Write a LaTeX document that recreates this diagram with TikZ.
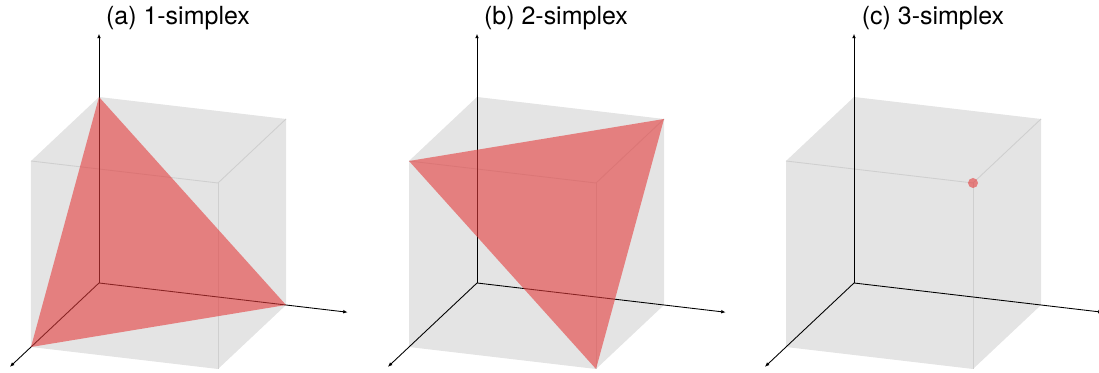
\documentclass[tikz,border=0pt]{standalone}
\usepackage{fontspec}
\setmainfont{TeX Gyre Heros}
\usetikzlibrary{arrows.meta}

\definecolor{cubegray}{HTML}{E4E4E4}
\definecolor{edgegray}{HTML}{CFCFCF}
\definecolor{simplexred}{RGB}{228,60,60}

% unit cube, its front edges and the three axes
\newcommand{\cubeframe}{%
  \coordinate (c000) at (0,0,0); \coordinate (c100) at (1,0,0);
  \coordinate (c010) at (0,1,0); \coordinate (c001) at (0,0,1);
  \coordinate (c110) at (1,1,0); \coordinate (c101) at (1,0,1);
  \coordinate (c011) at (0,1,1); \coordinate (c111) at (1,1,1);
  \coordinate (ax) at (1.33,0,0); \coordinate (ay) at (0,1.31,0); \coordinate (az) at (0,0,1.34);
  \fill[cubegray] (c100)--(c110)--(c010)--(c011)--(c001)--(c101)--cycle;
  \draw[cubeedge] (c011)--(c111)--(c101); \draw[cubeedge] (c111)--(c110);
  \draw[axis] (c000)--(ax); \draw[axis] (c000)--(ay); \draw[axis] (c000)--(az);
}

\begin{document}
\begin{tikzpicture}[x={(3.74cm,-0.44cm)},y={(-1.36cm,-1.28cm)},z={(0cm,3.72cm)},
  title/.style={anchor=base,inner sep=0pt,font=\fontsize{14.2}{17}\selectfont},
  cubeedge/.style={draw=edgegray,line width=0.5pt},
  axis/.style={-{Latex[length=0.9mm,width=0.75mm]},line width=0.5pt,black},
  simplex/.style={fill=simplexred,fill opacity=0.6},
  dot/.style={circle,fill=simplexred,fill opacity=0.6,minimum size=0.2cm,inner sep=0pt}]
\useasboundingbox (-1.98cm,-1.8cm) rectangle (20.0cm,5.66cm);
\begin{scope}
\cubeframe
\fill[simplex] (c001)--(c100)--(c010)--cycle;
\node[title] (ta) at (1.58cm,5.16cm) {(a) 1-simplex};
\end{scope}
\begin{scope}[xshift=7.56cm]
\cubeframe
\fill[simplex] (c011)--(c101)--(c110)--cycle;
\node[title] (tb) at (1.58cm,5.16cm) {(b) 2-simplex};
\end{scope}
\begin{scope}[xshift=15.1cm]
\cubeframe
\node[dot] (p) at (c111) {};
\node[title] (tc) at (1.58cm,5.16cm) {(c) 3-simplex};
\end{scope}
\end{tikzpicture}
\end{document}
